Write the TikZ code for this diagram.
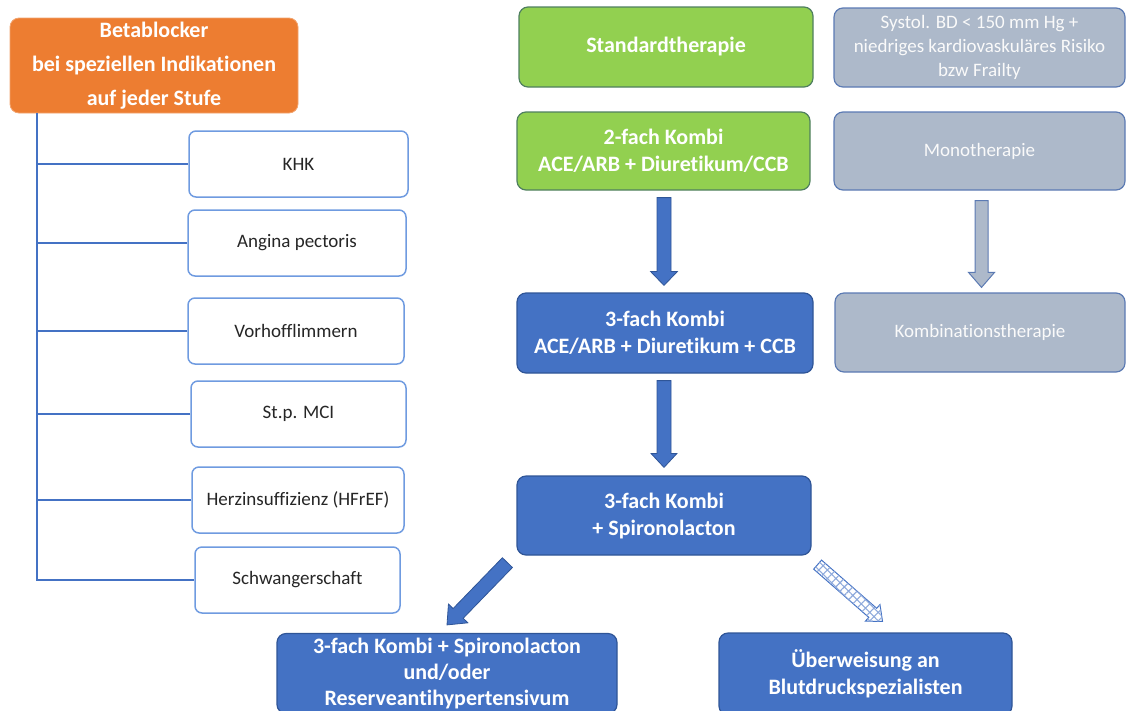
\documentclass[tikz,border=0pt]{standalone}
\usepackage{fontspec}
\setmainfont{Carlito}[RawFeature={-liga}]
\usetikzlibrary{calc,patterns.meta}
\definecolor{cblue}{HTML}{4472C4}
\definecolor{cblueD}{HTML}{2F5597}
\definecolor{cgreen}{HTML}{92D050}
\definecolor{cgreenD}{HTML}{4F7F5F}
\definecolor{cgray}{HTML}{ADB9CA}
\definecolor{cgrayD}{HTML}{5B7AB3}
\definecolor{corange}{HTML}{ED7D31}
\definecolor{clight}{HTML}{6F9BE0}
\definecolor{chatch}{HTML}{8FAADC}
\definecolor{ctext}{HTML}{262626}
\newcommand\blockarrow[6]{%
  \coordinate (tmpb) at ($(#3)!#6!(#2)$);
  \draw[#1] ($(#2)!#4!90:(#3)$) -- ($(tmpb)!#4!90:(#3)$) -- ($(tmpb)!#5!90:(#3)$)
    -- (#3) -- ($(tmpb)!#5!-90:(#3)$) -- ($(tmpb)!#4!-90:(#3)$) -- ($(#2)!#4!-90:(#3)$) -- cycle;}
\tikzset{
  mainbox/.style={rectangle, rounded corners=9pt, fill=cblue, draw=cblueD, line width=1.2pt,
    text=white, align=center, font=\fontsize{22}{27}\selectfont\bfseries, inner sep=0pt},
  greenbox/.style={mainbox, fill=cgreen, draw=cgreenD},
  graybox/.style={mainbox, fill=cgray, draw=cgrayD, text=white!96!gray,
    font=\fontsize{19}{24}\selectfont},
  indbox/.style={rectangle, rounded corners=7pt, fill=white, draw=clight, line width=1.5pt,
    text=ctext, align=center, font=\fontsize{19}{22}\selectfont, inner sep=0pt},
  tree/.style={draw=cblue, line width=1.6pt},
  barrow/.style={fill=cblue, draw=cblueD, line width=0.8pt},
  garrow/.style={fill=cgray, draw=cgrayD, line width=1pt},
  harrow/.style={fill=white, postaction={pattern={Hatch[angle=45, distance=6pt, line width=1.1pt]}, pattern color=chatch}, draw=cblue, line width=1pt}
}
\begin{document}
\begin{tikzpicture}[x=1pt,y=-1pt]
\useasboundingbox (0,0) rectangle (1126,710);
\clip (0,0) rectangle (1126,710);
% left column
\node[rectangle, rounded corners=9pt, fill=corange, draw=corange!70!white, line width=0.8pt,
  text=white, align=center, font=\fontsize{22}{34}\selectfont\bfseries,
  minimum width=288pt, minimum height=95pt, inner sep=0pt] (bb) at (154,65.5)
  {Betablocker\\bei speziellen Indikationen\\auf jeder Stufe};
\node[indbox, minimum width=219pt, minimum height=66pt] (khk) at (298.5,164) {KHK};
\node[indbox, minimum width=218pt, minimum height=66pt] (ap) at (297,243) {Angina pectoris};
\node[indbox, minimum width=216pt, minimum height=66pt] (vhf) at (296,331) {Vorhofflimmern};
\node[indbox, minimum width=215pt, minimum height=66pt] (mci) at (298.5,414) {St.p. MCI};
\node[indbox, minimum width=212pt, minimum height=66pt] (hi) at (298,500) {Herzinsuffizienz (HFrEF)};
\node[indbox, minimum width=205pt, minimum height=66pt] (sw) at (297.5,580) {Schwangerschaft};
\coordinate (trunk) at (37,113);
\draw[tree] (trunk) |- (sw.west);
\foreach \n in {khk,ap,vhf,mci,hi}{\draw[tree] (\n.west) -- (\n.west -| trunk);}
% main column
\node[greenbox, minimum width=294pt, minimum height=80pt] (std) at (666,47) {Standardtherapie};
\node[greenbox, minimum width=293pt, minimum height=78pt] (k2) at (663.5,151) {2-fach Kombi\\ACE/ARB + Diuretikum/CCB};
\node[mainbox, minimum width=296pt, minimum height=80pt] (k3) at (665,333) {3-fach Kombi\\ACE/ARB + Diuretikum + CCB};
\node[mainbox, minimum width=294pt, minimum height=79pt] (k3s) at (664,515.5) {3-fach Kombi\\+ Spironolacton};
\node[mainbox, minimum width=340pt, minimum height=80pt, font=\fontsize{22}{26}\selectfont\bfseries] (bl) at (447,673.5) {3-fach Kombi + Spironolacton\\und/oder\\Reserveantihypertensivum};
\node[mainbox, minimum width=293pt, minimum height=82pt] (br) at (865.5,674) {Überweisung an\\Blutdruckspezialisten};
% gray column
\node[graybox, minimum width=291pt, minimum height=79pt] (g1) at (979.5,47.5) {Systol. BD < 150 mm Hg +\\niedriges kardiovaskuläres Risiko\\bzw Frailty};
\node[graybox, minimum width=291pt, minimum height=78pt] (g2) at (979.5,151) {Monotherapie};
\node[graybox, minimum width=290pt, minimum height=79pt] (g3) at (980,332.5) {Kombinationstherapie};
% arrows
\coordinate (a1s) at ($(k2.south)+(0.5,7)$);
\coordinate (a1e) at ($(k3.north)+(-1,-7)$);
\blockarrow{barrow}{a1s}{a1e}{7pt}{13.5pt}{14pt}
\coordinate (a2s) at ($(k3.south)+(-1,7)$);
\coordinate (a2e) at ($(k3s.north)+(0,-8)$);
\blockarrow{barrow}{a2s}{a2e}{7pt}{13pt}{14pt}
\coordinate (a3s) at ($(g2.south)+(2,10)$);
\coordinate (a3e) at ($(g3.north)+(1.5,-5)$);
\blockarrow{garrow}{a3s}{a3e}{6.5pt}{13pt}{15pt}
\coordinate (a4s) at ($(k3s.south west)+(-9,7)$);
\coordinate (a4e) at ($(bl.north)+(0,-8)$);
\blockarrow{barrow}{a4s}{a4e}{7pt}{13.5pt}{16pt}
\coordinate (a5s) at ($(k3s.south east)+(6,9)$);
\coordinate (a5e) at ($(br.north)+(17,-11)$);
\blockarrow{harrow}{a5s}{a5e}{6pt}{11pt}{13pt}
\end{tikzpicture}
\end{document}
